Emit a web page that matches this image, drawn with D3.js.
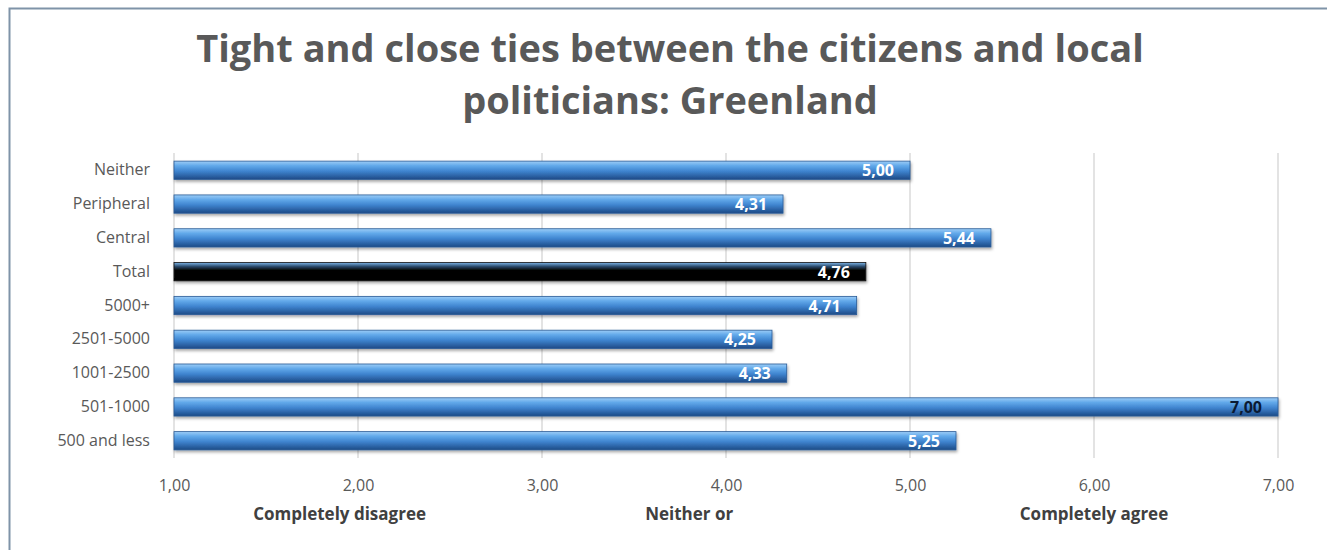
<!DOCTYPE html>
<html>
<head>
<meta charset="utf-8">
<script src="https://cdn.jsdelivr.net/npm/d3@7"></script>
<style>
  body { margin: 0; background: #fff; }
  svg text { font-family: "Open Sans", "DejaVu Sans", sans-serif; }
</style>
</head>
<body>
<svg id="drawing_region"></svg>
<script>
// chart data
const categories = ['Neither', 'Peripheral', 'Central', 'Total', '5000+', '2501-5000', '1001-2500', '501-1000', '500 and less'];
const values = [5.00, 4.31, 5.44, 4.76, 4.71, 4.25, 4.33, 7.00, 5.25];
const tickValues = [1, 2, 3, 4, 5, 6, 7];
const axisNotes = [
    { at: 1.9, text: 'Completely disagree' },
    { at: 3.8, text: 'Neither or' },
    { at: 6.0, text: 'Completely agree' }
];
const title = ['Tight and close ties between the citizens and local', 'politicians: Greenland'];

const fmt = v => d3.format('.2f')(v).replace('.', ',');

const width = 1327, height = 550;
const margin = { top: 153, right: 49, bottom: 92, left: 174 };
const innerW = width - margin.left - margin.right;
const innerH = height - margin.top - margin.bottom;

const svg = d3.select('#drawing_region')
    .attr('width', width)
    .attr('height', height);

// gradients for the bevelled bars
const defs = svg.append('defs');
const blue = defs.append('linearGradient').attr('id', 'gBlue')
    .attr('x1', 0).attr('y1', 0).attr('x2', 0).attr('y2', 1);
blue.append('stop').attr('offset', '0%').attr('stop-color', '#9dcdf7');
blue.append('stop').attr('offset', '25%').attr('stop-color', '#62a9ea');
blue.append('stop').attr('offset', '55%').attr('stop-color', '#3f84cf');
blue.append('stop').attr('offset', '100%').attr('stop-color', '#1d4a86');
const black = defs.append('linearGradient').attr('id', 'gBlack')
    .attr('x1', 0).attr('y1', 0).attr('x2', 0).attr('y2', 1);
black.append('stop').attr('offset', '0%').attr('stop-color', '#7ab3e6');
black.append('stop').attr('offset', '22%').attr('stop-color', '#2a4a6a');
black.append('stop').attr('offset', '42%').attr('stop-color', '#050505');
black.append('stop').attr('offset', '100%').attr('stop-color', '#000');
const shadow = defs.append('filter').attr('id', 'shadow')
    .attr('x', '-2%').attr('y', '-30%').attr('width', '104%').attr('height', '170%');
shadow.append('feDropShadow').attr('dx', 1).attr('dy', 2).attr('stdDeviation', 1.5)
    .attr('flood-color', '#000').attr('flood-opacity', 0.35);

// outer frame
svg.append('rect')
    .attr('x', 9.5).attr('y', 8.5)
    .attr('width', width).attr('height', height)
    .attr('fill', 'none')
    .attr('stroke', '#7f93a8')
    .attr('stroke-width', 2);

svg.append('g').selectAll('text')
    .data(title)
    .join('text')
    .attr('x', 670)
    .attr('y', (d, i) => 62 + i * 52)
    .attr('text-anchor', 'middle')
    .style('font-size', '38px')
    .style('font-weight', 'bold')
    .style('fill', '#595959')
    .text(d => d);

const chart = svg.append('g')
    .attr('transform', `translate(${margin.left}, ${margin.top})`);

const x = d3.scaleLinear().domain([1, 7]).range([0, innerW]);
const y = d3.scaleBand().domain(categories).range([0, innerH]).paddingInner(0.46).paddingOuter(0.24);

// gridlines
chart.append('g')
    .selectAll('line')
    .data(tickValues)
    .join('line')
    .attr('x1', d => x(d)).attr('x2', d => x(d))
    .attr('y1', 0).attr('y2', innerH)
    .attr('stroke', '#e3e3e3')
    .attr('stroke-width', 2);

// x axis ticks labels
const xAxis = chart.append('g')
    .attr('transform', `translate(0, ${innerH})`)
    .call(d3.axisBottom(x).tickValues(tickValues).tickFormat(fmt).tickSize(0).tickPadding(22));
xAxis.select('.domain').remove();
xAxis.selectAll('text')
    .style('font-size', '16px')
    .style('fill', '#595959');

// notes under the axis
chart.append('g').selectAll('text')
    .data(axisNotes)
    .join('text')
    .attr('x', d => x(d.at))
    .attr('y', innerH + 62)
    .attr('text-anchor', 'middle')
    .style('font-size', '17px')
    .style('font-weight', 'bold')
    .style('fill', '#404040')
    .text(d => d.text);

// y axis category labels
const yAxis = chart.append('g')
    .call(d3.axisLeft(y).tickSize(0).tickPadding(24));
yAxis.select('.domain').remove();
yAxis.selectAll('text')
    .style('font-size', '16px')
    .style('fill', '#595959');

const data = categories.map((c, i) => ({ cat: c, value: values[i] }));

// bars
chart.append('g').selectAll('rect')
    .data(data)
    .join('rect')
    .attr('x', x(1))
    .attr('y', d => y(d.cat))
    .attr('width', d => x(d.value) - x(1))
    .attr('height', y.bandwidth())
    .attr('fill', d => d.cat === 'Total' ? 'url(#gBlack)' : 'url(#gBlue)')
    .attr('stroke', d => d.cat === 'Total' ? '#111' : '#2a5b96')
    .attr('stroke-width', 0.8)
    .attr('filter', 'url(#shadow)');

// value labels
chart.append('g').selectAll('text')
    .data(data)
    .join('text')
    .attr('x', d => x(d.value) - 16)
    .attr('y', d => y(d.cat) + y.bandwidth() / 2 + 6)
    .attr('text-anchor', 'end')
    .style('font-size', '16px')
    .style('font-weight', 'bold')
    .style('fill', d => d.value >= 7 ? '#0a1a33' : '#fff')
    .text(d => fmt(d.value));
</script>
</body>
</html>
